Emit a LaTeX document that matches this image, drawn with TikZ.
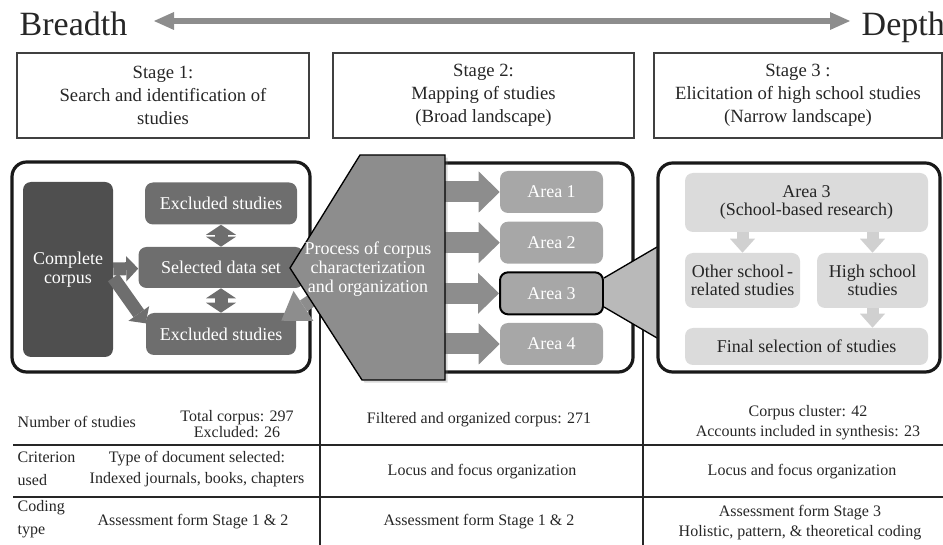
\documentclass[tikz,border=0pt]{standalone}
\usepackage{fontspec}
\setmainfont{Liberation Serif}
\usetikzlibrary{arrows.meta,shadows}
\definecolor{darkbox}{HTML}{4F4F4F}
\definecolor{midbox}{HTML}{6E6E6E}
\definecolor{procgray}{HTML}{8D8D8D}
\definecolor{areagray}{HTML}{A7A7A7}
\definecolor{funnelgray}{HTML}{B9B9B9}
\definecolor{lightbox}{HTML}{DBDBDB}
\definecolor{lightarrow}{HTML}{D0D0D0}

\begin{document}
\begin{tikzpicture}[x=0.75pt,y=-0.75pt,node distance=38pt,
  stage/.style={draw=black!75,line width=0.8pt,minimum height=63.75pt,align=center,
    text=black!85,font=\fontsize{14}{17.25}\selectfont},
  frame/.style={draw=black!90,line width=2.4pt,rounded corners=11pt},
  box/.style={rounded corners=6pt,align=center,text=white,inner sep=2pt,font=\fontsize{13.5}{14}\selectfont},
  dark/.style={box,fill=darkbox},
  mid/.style={box,fill=midbox,minimum height=31.5pt},
  area/.style={box,fill=areagray,minimum width=77.25pt,minimum height=31.5pt},
  light/.style={box,fill=lightbox,text=black!85},
  tab/.style={align=center,text=black!85,font=\fontsize{12}{15}\selectfont},
  larrow/.style={color=midbox,line width=9.75pt,-{Triangle[length=9pt,width=19pt,line width=0pt]}},
  darrow/.style={color=midbox,line width=9.75pt,{Triangle[length=7.5pt,width=22.5pt,line width=0pt]}-{Triangle[length=7.5pt,width=22.5pt,line width=0pt]}},
  parrow/.style={color=procgray,line width=9.75pt,-{Triangle[length=20pt,width=27pt,line width=0pt]}},
  marrow/.style={color=procgray,line width=15.75pt,-{Triangle[length=15.75pt,width=30.75pt,line width=0pt]}},
  rarrow/.style={color=lightarrow,line width=9pt,-{Triangle[length=10.5pt,width=18.75pt,line width=0pt]}}]
  \useasboundingbox (0,0) rectangle (943,545);

  % breadth / depth
  \node[anchor=base west,text=black!85,font=\fontsize{25.5}{26}\selectfont] (br) at (15,36) {Breadth};
  \node[anchor=base west,text=black!85,font=\fontsize{25.5}{26}\selectfont] (dp) at (857,36) {Depth};
  \coordinate (bl) at (154,21);
  \coordinate (dl) at (850,21);
  \draw[procgray,line width=4.5pt,{Triangle[length=15pt,width=13.5pt,line width=0pt]}-{Triangle[length=15pt,width=13.5pt,line width=0pt]}]
    (bl) -- (dl);

  % stages
  \node[stage,minimum width=219pt] (s1) at (163,95.5) {Stage 1:\\Search and identification of\\studies};
  \node[stage,minimum width=225.75pt] (s2) at (483.5,95.5) {Stage 2:\\Mapping of studies\\(Broad landscape)};
  \node[stage,minimum width=216pt] (s3) at (798,95.5) {Stage 3 :\\Elicitation of high school studies\\(Narrow landscape)};

  % table rules
  \draw[black!85,line width=0.8pt] (13,445) -- (943,445) (13,497) -- (943,497)
    (320,300) -- (320,545) (643,300) -- (643,545);

  % panels
  \draw[frame] (12,162) rectangle (310,372);
  \draw[frame] (400,163) rectangle (633,372);

  % stage 1
  \node[dark,minimum width=67.5pt,minimum height=131.25pt] (cc) at (68,269.5) {Complete\\corpus};
  \node[mid,minimum width=114pt] (ex1) at (221,203.5) {Excluded studies};
  \node[mid,minimum width=123.75pt,minimum height=30.75pt] (sel) at (221,267.5) {Selected data set};
  \node[mid,minimum width=112.5pt] (ex2) at (221,334) {Excluded studies};
  \path[larrow] (cc) edge (sel)
    ([yshift=-6pt]cc.east) edge ([yshift=8pt]ex2.west);
  \path[darrow] (sel) edge (ex1)
    (sel) edge (ex2);

  % stage 2
  \coordinate (pe) at (445,268);
  \coordinate (pa) at (338,283);
  \node[area] (a1) at (551.5,192) {Area 1};
  \node[area,below of=a1] (a2) {Area 2};
  \node[area,below of=a2,draw=black,line width=1.5pt] (a3) {Area 3};
  \node[area,below of=a3] (a4) {Area 4};
  \path[marrow] (pe |- a1) edge (a1)
    (pe |- a2) edge (a2)
    (pe |- a3) edge (a3)
    (pe |- a4) edge (a4);
  \path[parrow] (pa) edge ([shift={(-15,8)}]ex2.north east);
  \filldraw[fill=procgray,draw=black,line width=1pt,drop shadow={opacity=.3,shadow xshift=2pt,shadow yshift=-2pt}]
    (290,268) -- (360,155) -- (445,155) -- (445,380) -- (362,380) -- cycle;
  \node[box] (proc) at (368,269) {Process of corpus\\characterization\\and organization};

  % funnel to stage 3
  \fill[funnelgray] (604,278) -- (657,247) -- (657,338) -- (604,307) -- cycle;
  \draw[line width=1pt] (604,278) -- (657,247) (604,307) -- (657,338);

  % stage 3
  \draw[frame] (658,163) rectangle (940,372);
  \node[light,minimum width=182.25pt,minimum height=44.25pt] (r3) at (806.5,202.5) {Area 3\\(School-based research)};
  \node[light,minimum width=86.25pt,minimum height=41.25pt] (ro) at (742.5,280.5) {Other school\,-\\related studies};
  \node[light,minimum width=83.25pt,minimum height=41.25pt] (rh) at (872.5,280.5) {High school\\studies};
  \node[light,minimum width=182.25pt,minimum height=27.75pt] (rf) at (806.5,346.5) {Final selection of studies};
  \path[rarrow] (ro |- r3.south) edge (ro)
    (rh |- r3.south) edge (rh)
    (rh) edge (rh |- rf.north);

  % table
  \node[tab,anchor=west] (n1) at (13,422) {Number of studies};
  \node[tab,font=\fontsize{12}{12.5}\selectfont] (n2) at (237,424) {Total corpus: 297\\Excluded: 26};
  \node[tab] (n3) at (479,420) {Filtered and organized corpus: 271};
  \node[tab] (n4) at (808,423) {Corpus cluster: 42\\Accounts included in synthesis: 23};
  \node[tab,anchor=west,align=left,font=\fontsize{12}{17.25}\selectfont] (c1) at (13,469) {Criterion\\used};
  \node[tab,font=\fontsize{12}{15.75}\selectfont] (c2) at (197,469) {Type of document selected:\\Indexed journals, books, chapters};
  \node[tab] (c3) at (482,472) {Locus and focus organization};
  \node[tab] (c4) at (802,472) {Locus and focus organization};
  \node[tab,anchor=west,align=left,font=\fontsize{12}{17.25}\selectfont] (k1) at (13,519) {Coding\\type};
  \node[tab] (k2) at (193,522) {Assessment form Stage 1 \& 2};
  \node[tab] (k3) at (479,522) {Assessment form Stage 1 \& 2};
  \node[tab] (k4) at (800,523) {Assessment form Stage 3\\Holistic, pattern, \& theoretical coding};
\end{tikzpicture}
\end{document}
